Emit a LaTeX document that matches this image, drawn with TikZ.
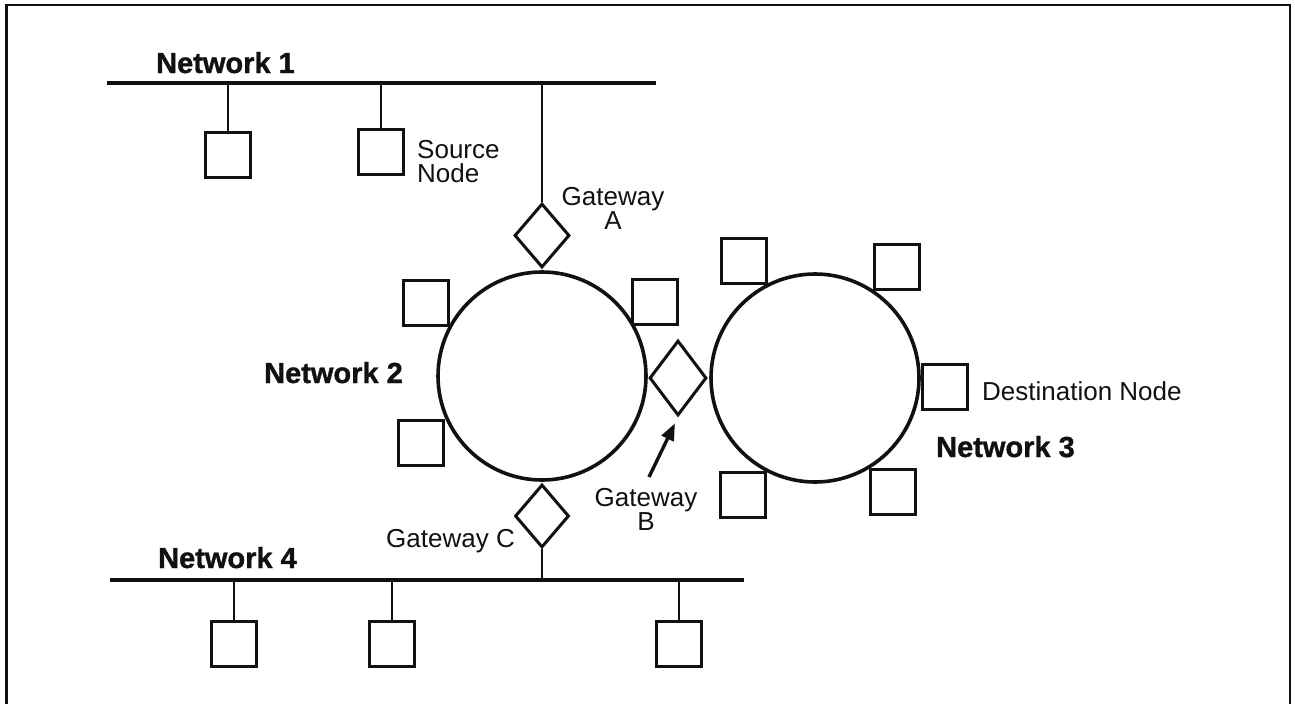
\documentclass[tikz,border=0pt]{standalone}
\usepackage{fontspec}
\setmainfont{Liberation Sans}
\newfontfamily\labelfont[FakeBold=1.2]{Liberation Sans Bold}
\usepackage{tikz}
\usetikzlibrary{arrows.meta,shapes.geometric}
\definecolor{ink}{HTML}{111111}

\begin{document}
\begin{tikzpicture}[
    x=1pt, y=-1pt,
    host/.style={
        draw=ink,
        fill=white,
        line width=3pt,
        minimum width=45pt,
        minimum height=45pt,
        inner sep=0pt
    },
    ring/.style={circle, draw=ink, line width=3.6pt, minimum size=208pt, inner sep=0pt},
    gateway/.style={diamond, draw=ink, fill=white, line width=3pt, inner sep=0pt},
    bus/.style={line width=3.6pt, ink},
    drop/.style={line width=1.3pt, ink},
    netlabel/.style={font=\fontsize{29}{32}\labelfont, text=ink, inner sep=0pt},
    note/.style={font=\fontsize{26}{24}\selectfont, text=ink, inner sep=0pt, align=center},
    pointer/.style={-{Triangle[length=17pt,width=13pt]}, line width=3.4pt, ink}
]
\useasboundingbox (0,0) rectangle (1295,704);

% Outer frame (open at the bottom)
\draw[line width=2.4pt, ink] (6.5,704) -- (6.5,5) -- (1290,5) -- (1290,704);

% Ring networks
\node[ring] (net2) at (542,376) {};
\node[ring] (net3) at (815,378) {};

% Buses
\coordinate (bus1w) at (107,83);
\coordinate (bus1e) at (656,83);
\coordinate (bus4w) at (110,580);
\coordinate (bus4e) at (744,580);
\draw[bus] (bus1w) -- (bus1e);
\draw[bus] (bus4w) -- (bus4e);

% Hosts on Network 1
\node[host] (h1a) at (228,155) {};
\node[host] (h1b) at (381,152) {};
\draw[drop] (h1a.north) -- (h1a.north |- bus1w);
\draw[drop] (h1b.north) -- (h1b.north |- bus1w);

% Hosts on Network 2
\node[host] (h2a) at (426,303) {};
\node[host] (h2b) at (655,302) {};
\node[host] (h2c) at (421,443) {};

% Hosts on Network 3
\node[host] (h3a) at (744,261) {};
\node[host] (h3b) at (897,267) {};
\node[host] (h3c) at (945,387) {};
\node[host] (h3d) at (743,495) {};
\node[host] (h3e) at (893,492) {};

% Hosts on Network 4
\node[host] (h4a) at (234,644) {};
\node[host] (h4b) at (392,644) {};
\node[host] (h4c) at (679,644) {};
\draw[drop] (h4a.north) -- (h4a.north |- bus4w);
\draw[drop] (h4b.north) -- (h4b.north |- bus4w);
\draw[drop] (h4c.north) -- (h4c.north |- bus4w);

% Gateways
\node[gateway, minimum width=55pt, minimum height=64pt] (gwA) at (542,235.5) {};
\node[gateway, minimum width=57pt, minimum height=75pt] (gwB) at (678,378) {};
\node[gateway, minimum width=54pt, minimum height=63pt] (gwC) at (542,516) {};
\draw[drop] (gwA.north) -- (gwA.north |- bus1w);
\draw[drop] (gwC.south) -- (gwC.south |- bus4w);

% Labels
\node[netlabel, anchor=base west] (n1lbl) at (156,73) {Network 1};
\node[netlabel, anchor=base east] (n2lbl) at (403,383) {Network 2};
\node[netlabel, anchor=base west] (n3lbl) at (936,457) {Network 3};
\node[netlabel, anchor=base west] (n4lbl) at (158,568) {Network 4};
\node[note, align=left, anchor=north west] (srclbl) at (417,140) {Source\\Node};
\node[note, anchor=base west] (dstlbl) at (982,400) {Destination Node};
\node[note, anchor=north] (gwAlbl) at (613,187) {Gateway\\A};
\node[note, anchor=north] (gwBlbl) at (646,488) {Gateway\\B};
\node[note, anchor=base east] (gwClbl) at (515,547) {Gateway C};

% Pointer to Gateway B
\coordinate (ptrtail) at (649,477);
\draw[pointer, shorten >=7pt] (ptrtail) -- (gwB.south);

\end{tikzpicture}
\end{document}
